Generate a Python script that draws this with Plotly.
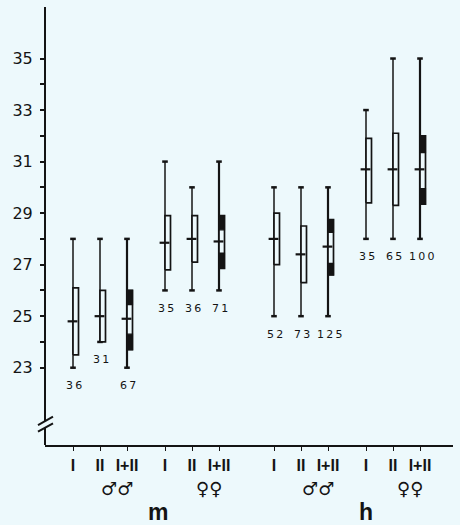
import plotly.graph_objects as go

# ---------------- data ----------------
groups = ["m ♂♂", "m ♀♀", "h ♂♂", "h ♀♀"]
sub_labels = ["I", "II", "I+II"]
counts = [36, 31, 67, 35, 36, 71, 52, 73, 125, 35, 65, 100]
mins = [23, 24, 23, 26, 26, 26, 25, 25, 25, 28, 28, 28]
maxs = [28, 28, 28, 31, 30, 31, 30, 30, 30, 33, 35, 35]
means = [24.8, 25.0, 24.9, 27.85, 28.0, 27.9, 28.0, 27.4, 27.7, 30.7, 30.7, 30.7]
sd_lo = [23.5, 24.0, 23.7, 26.8, 27.1, 26.85, 27.0, 26.3, 26.6, 29.4, 29.3, 29.35]
sd_hi = [26.1, 26.0, 26.0, 28.9, 28.9, 28.9, 29.0, 28.5, 28.75, 31.9, 32.1, 32.0]
# inner (white) part of the combined I+II boxes; None where not drawn
inner_lo = [None, None, 24.3, None, None, 27.45, None, None, 27.05, None, None, 29.95]
inner_hi = [None, None, 25.45, None, None, 28.35, None, None, 28.25, None, None, 31.35]
sex_symbols = ["♂♂", "♀♀", "♂♂", "♀♀"]
site_labels = ["m", "h"]
y_major = [23, 25, 27, 29, 31, 33, 35]
y_minor = [24, 26, 28, 30, 32, 34]

# ---------------- layout constants ----------------
BG = "#EDF9FC"
INK = "#141414"
group_start = [73, 165, 274, 366]
step = 27
box_w = 5.5
pos = [g + k * step for g in group_start for k in range(3)]

fig = go.Figure()

# whiskers
wx, wy, wx2, wy2 = [], [], [], []
for i, p in enumerate(pos):
    if i % 3 == 2:
        wx2 += [p, p, None]; wy2 += [mins[i], maxs[i], None]
    else:
        wx += [p, p, None]; wy += [mins[i], maxs[i], None]
fig.add_trace(go.Scatter(x=wx, y=wy, mode="lines", line=dict(color=INK, width=1.5), hoverinfo="skip"))
fig.add_trace(go.Scatter(x=wx2, y=wy2, mode="lines", line=dict(color=INK, width=2.2), hoverinfo="skip"))

# whisker caps
cx = [p for p in pos] * 2
cy = mins + maxs
fig.add_trace(go.Scatter(x=cx, y=cy, mode="markers",
                         marker=dict(symbol="line-ew-open", size=4, color=INK,
                                     line=dict(color=INK, width=2.5)),
                         hoverinfo="skip"))

# SD boxes
bx, by = [], []
for i, p in enumerate(pos):
    bx += [p, p + box_w, p + box_w, p, p, None]
    by += [sd_lo[i], sd_lo[i], sd_hi[i], sd_hi[i], sd_lo[i], None]
fig.add_trace(go.Scatter(x=bx, y=by, mode="lines", fill="toself", fillcolor=BG,
                         line=dict(color=INK, width=1.7), hoverinfo="skip"))

# black bands of combined boxes
kx, ky = [], []
for i, p in enumerate(pos):
    if inner_lo[i] is None:
        continue
    for a, b in ((inner_hi[i], sd_hi[i]), (sd_lo[i], inner_lo[i])):
        kx += [p, p + box_w, p + box_w, p, p, None]
        ky += [a, a, b, b, a, None]
fig.add_trace(go.Scatter(x=kx, y=ky, mode="lines", fill="toself", fillcolor=INK,
                         line=dict(color=INK, width=1.2), hoverinfo="skip"))

# means
fig.add_trace(go.Scatter(x=[p - 0.5 for p in pos], y=means, mode="markers",
                         marker=dict(symbol="line-ew-open", size=7, color=INK,
                                     line=dict(color=INK, width=2.2)),
                         hoverinfo="skip"))

# counts below each column
for i, p in enumerate(pos):
    fig.add_annotation(x=p + 1, y=mins[i], yshift=-18, text="\u2009".join(str(counts[i])),
                       showarrow=False, font=dict(family="DejaVu Sans", size=11, color=INK),
                       xanchor="center", yanchor="middle")

# sex symbols and site letters
sym_x = [pos[3 * g + 1] + (pos[3 * g + 2] - pos[3 * g + 1]) / 2 + 3 for g in range(4)]
for g in range(4):
    fig.add_annotation(x=sym_x[g], y=-0.1, yref="paper", text=sex_symbols[g], showarrow=False,
                       font=dict(family="DejaVu Sans", size=18, color=INK, weight="bold"),
                       xanchor="center", yanchor="middle")
site_x = [158, 366]
for s in range(2):
    fig.add_annotation(x=site_x[s], y=-0.152, yref="paper", text=site_labels[s], showarrow=False,
                       font=dict(family="Liberation Sans", size=23, color=INK, weight="bold"),
                       xanchor="center", yanchor="middle")

# y axis line with break
for y0, y1 in ((20.93, 37), (20, 20.67)):
    fig.add_shape(type="line", xref="paper", yref="y", x0=0, x1=0, y0=y0, y1=y1,
                  line=dict(color=INK, width=2))
for y0, y1 in ((20.776, 21.098), (20.516, 20.842)):
    fig.add_shape(type="line", xref="paper", yref="y", x0=-7 / 408, x1=8 / 408, y0=y0, y1=y1,
                  line=dict(color=INK, width=2))

fig.update_layout(
    width=460, height=525,
    margin=dict(l=45, r=7, t=7, b=80),
    paper_bgcolor=BG, plot_bgcolor=BG,
    showlegend=False,
    xaxis=dict(range=[45, 453], showgrid=False, zeroline=False, showline=True,
               linecolor=INK, linewidth=2,
               tickmode="array", tickvals=pos, ticktext=sub_labels * 4,
               ticks="outside", ticklen=4, tickwidth=1.2, tickcolor=INK,
               tickfont=dict(family="Liberation Sans", size=16, color=INK, weight="bold"),
               ticklabelstandoff=1, fixedrange=True),
    yaxis=dict(range=[20, 37], showgrid=False, zeroline=False, showline=False,
               tickmode="array", tickvals=y_major, ticktext=[str(v) for v in y_major],
               ticks="outside", ticklen=4, tickwidth=1.5, tickcolor=INK,
               minor=dict(tickmode="array", tickvals=y_minor, ticks="outside", ticklen=4,
                          tickwidth=1.5, tickcolor=INK),
               tickfont=dict(family="DejaVu Sans", size=16, color=INK),
               ticklabelstandoff=4, fixedrange=True),
)

fig.write_html("out.html")
